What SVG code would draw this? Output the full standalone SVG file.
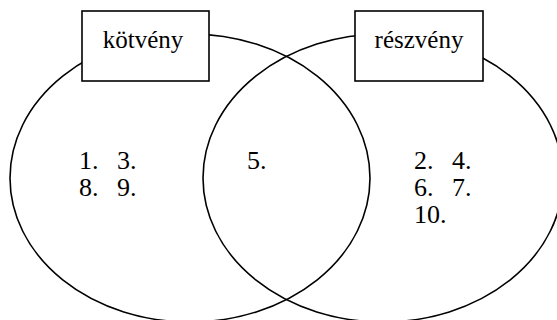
<svg xmlns="http://www.w3.org/2000/svg" width="557" height="320" viewBox="0 0 557 320">
<defs>
<style>
.e{fill:none;stroke:#000;stroke-width:1.6}
.b{fill:#fff;stroke:#000;stroke-width:1.6}
.t{font-family:"Liberation Serif","Times New Roman",serif;font-size:25px}
.n{font-family:"Liberation Serif","Times New Roman",serif;font-size:26px}
</style>
</defs>
<rect width="557" height="320" fill="#fff"/>
<g id="sets">
<ellipse id="set-kotveny" class="e" cx="190" cy="178" rx="180" ry="144"/>
<ellipse id="set-reszveny" class="e" cx="383" cy="178" rx="180" ry="144"/>
</g>
<g id="node-kotveny">
<rect class="b" x="82" y="11" width="127" height="70"/>
<text class="t" x="143" y="48" text-anchor="middle">kötvény</text>
</g>
<g id="node-reszveny">
<rect class="b" x="355" y="11" width="128" height="70"/>
<text class="t" x="419" y="48" text-anchor="middle">részvény</text>
</g>
<g id="left-items">
<text class="n" x="79" y="169">1.</text><text class="n" x="117" y="169">3.</text>
<text class="n" x="79" y="196">8.</text><text class="n" x="117" y="196">9.</text>
</g>
<g id="mid-items">
<text class="n" x="247" y="169">5.</text>
</g>
<g id="right-items">
<text class="n" x="414" y="169">2.</text><text class="n" x="452" y="169">4.</text>
<text class="n" x="414" y="196">6.</text><text class="n" x="452" y="196">7.</text>
<text class="n" x="414" y="223">10.</text>
</g>
</svg>
